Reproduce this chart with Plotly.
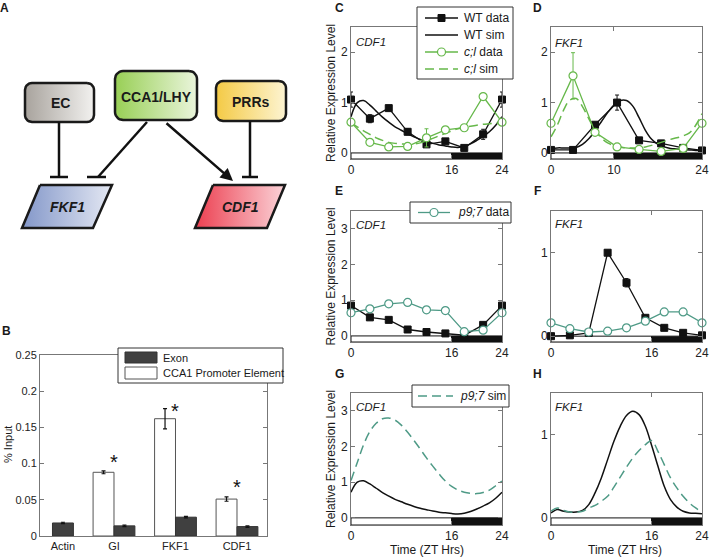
import numpy as np
import plotly.graph_objects as go

W, H = 709, 558
FONT = "Liberation Sans, Arial, sans-serif"

# ---------------- DATA ----------------
# Panel B: ChIP, % input
b_genes = ["Actin", "GI", "FKF1", "CDF1"]
b_promoter = [None, 0.088, 0.162, 0.051]
b_promoter_err = [None, 0.002, 0.014, 0.003]
b_exon = [0.018, 0.014, 0.026, 0.013]
b_exon_err = [0.001, 0.001, 0.001, 0.001]
b_star_y = [None, 0.109, 0.179, 0.075]

# sampling times (ZT hrs)
t_3h = [0, 3, 6, 9, 12, 15, 18, 21, 24]
t_35h = [0, 3.5, 7, 10.5, 14, 17.5, 21, 24]
t_sim = list(range(25))

# Panel C: CDF1 (WT vs cca1;lhy)
c_wt = [1.06, 0.68, 0.89, 0.42, 0.17, 0.23, 0.10, 0.37, 1.06]
c_wt_err = [0.15, 0.08, 0.04, 0.06, 0.04, 0.03, 0.03, 0.10, 0.15]
c_cl = [0.61, 0.21, 0.12, 0.13, 0.30, 0.46, 0.50, 1.12, 0.61]
c_cl_err = [0.03, 0.03, 0.02, 0.02, 0.18, 0.03, 0.03, 0.03, 0.03]
c_wt_sim = [0.72, 1.00, 1.04, 0.95, 0.83, 0.71, 0.61, 0.52, 0.45, 0.38, 0.32, 0.27, 0.23,
            0.19, 0.16, 0.14, 0.12, 0.11, 0.13, 0.18, 0.25, 0.33, 0.42, 0.55, 0.72]
c_cl_sim = [0.60, 0.52, 0.44, 0.37, 0.30, 0.25, 0.21, 0.19, 0.18, 0.17, 0.18, 0.20, 0.24,
            0.29, 0.34, 0.39, 0.44, 0.48, 0.51, 0.53, 0.55, 0.57, 0.58, 0.59, 0.60]

# Panel D: FKF1 (WT vs cca1;lhy)
d_wt = [0.06, 0.06, 0.56, 1.00, 0.25, 0.19, 0.10, 0.05]
d_wt_err = [0.02, 0.02, 0.04, 0.15, 0.04, 0.03, 0.02, 0.02]
d_cl = [0.59, 1.53, 0.41, 0.12, 0.07, 0.03, 0.09, 0.59]
d_cl_err = [0.05, 0.46, 0.05, 0.03, 0.02, 0.02, 0.02, 0.05]
d_wt_sim = [0.08, 0.10, 0.10, 0.10, 0.11, 0.17, 0.28, 0.44, 0.62, 0.80, 0.95, 1.04, 1.04,
            0.93, 0.70, 0.45, 0.27, 0.17, 0.12, 0.09, 0.08, 0.07, 0.06, 0.05, 0.05]
d_cl_sim = [0.32, 0.55, 0.85, 1.05, 1.08, 0.92, 0.68, 0.45, 0.30, 0.20, 0.15, 0.12, 0.10,
            0.10, 0.10, 0.12, 0.15, 0.19, 0.23, 0.27, 0.30, 0.34, 0.40, 0.55, 0.78]

# Panel E: CDF1 (WT vs prr9;7)
e_wt = [0.85, 0.52, 0.45, 0.18, 0.11, 0.07, 0.02, 0.31, 0.85]
e_wt_err = [0.03, 0.03, 0.03, 0.02, 0.02, 0.02, 0.02, 0.03, 0.03]
e_p97 = [0.65, 0.76, 0.90, 0.94, 0.73, 0.71, 0.12, 0.16, 0.65]
e_p97_err = [0.03, 0.03, 0.03, 0.03, 0.03, 0.03, 0.02, 0.02, 0.03]

# Panel F: FKF1 (WT vs prr9;7)
f_wt = [0.00, 0.01, 0.04, 1.00, 0.64, 0.22, 0.10, 0.04, 0.01]
f_wt_err = [0.01, 0.01, 0.01, 0.01, 0.05, 0.02, 0.01, 0.01, 0.01]
f_p97 = [0.16, 0.09, 0.05, 0.06, 0.10, 0.18, 0.29, 0.29, 0.16]
f_p97_err = [0.01, 0.01, 0.01, 0.01, 0.01, 0.02, 0.04, 0.01, 0.01]

# Panel G: CDF1 simulations
g_wt_sim = c_wt_sim
g_p97_sim = [1.05, 1.55, 2.05, 2.42, 2.65, 2.78, 2.80, 2.74, 2.60, 2.40, 2.17, 1.93, 1.68,
             1.45, 1.23, 1.03, 0.88, 0.78, 0.72, 0.69, 0.68, 0.71, 0.78, 0.90, 1.03]

# Panel H: FKF1 simulations
h_wt_sim = [0.06, 0.10, 0.08, 0.07, 0.07, 0.09, 0.16, 0.30, 0.48, 0.70, 0.92, 1.10, 1.23,
            1.28, 1.24, 1.10, 0.87, 0.62, 0.38, 0.22, 0.13, 0.08, 0.06, 0.055, 0.05]
h_p97_sim = [0.08, 0.12, 0.09, 0.07, 0.07, 0.08, 0.12, 0.15, 0.20, 0.26, 0.37, 0.49, 0.61,
             0.72, 0.81, 0.88, 0.93, 0.80, 0.64, 0.48, 0.36, 0.26, 0.18, 0.12, 0.07]

# light/dark: lights off (ZT) per panel
dusk = {"C": 16, "D": 10, "E": 16, "F": 16, "G": 16, "H": 16}

# ---------------- STYLE ----------------
BLACK = "#111111"
GREEN = "#66b84a"
TEAL = "#4e9a86"
AXC = "#777777"

def px(x):
    return x / W

def py(y):
    return 1 - y / H

fig = go.Figure()
shapes = []
annotations = []
layout = {}

# ---------------- time-course panels ----------------
panels = {
    "C": (2, 351, 502, 27, 159, [-0.12, 2.5], [0, 1, 2], [0, 16, 24]),
    "D": (3, 551, 702, 27, 159, [-0.12, 2.5], [0, 1, 2], [0, 10, 24]),
    "E": (4, 351, 502, 211, 342, [-0.17, 3.5], [0, 1, 2, 3], [0, 16, 24]),
    "F": (5, 551, 702, 211, 342, [-0.07, 1.5], [0, 1], [0, 16, 24]),
    "G": (6, 351, 502, 393, 525, [-0.2, 3.5], [0, 1, 2, 3], [0, 16, 24]),
    "H": (7, 551, 702, 393, 525, [-0.085, 1.5], [0, 1], [0, 16, 24]),
}

for name, (n, x0, x1, yt, yb, yr, ytk, xtk) in panels.items():
    common = dict(showline=True, linecolor=AXC, linewidth=1, mirror="allticks",
                  ticks="inside", ticklen=4, tickcolor=AXC, showgrid=False,
                  zeroline=False, automargin=False,
                  tickfont=dict(family=FONT, size=12, color="#222"))
    layout[f"xaxis{n}"] = dict(domain=[px(x0), px(x1)], range=[0, 24], tickvals=xtk,
                               anchor=f"y{n}", **common)
    layout[f"yaxis{n}"] = dict(domain=[py(yb), py(yt)], range=yr, tickvals=ytk,
                               anchor=f"x{n}", **common)
    shapes.append(dict(type="rect", xref=f"x{n}", yref=f"y{n}", x0=0, x1=dusk[name],
                       y0=yr[0], y1=0, fillcolor="white", line=dict(color=BLACK, width=1),
                       layer="below"))
    shapes.append(dict(type="rect", xref=f"x{n}", yref=f"y{n}", x0=dusk[name], x1=24,
                       y0=yr[0], y1=0, fillcolor=BLACK, line=dict(color=BLACK, width=1),
                       layer="below"))


def sim(n, t, y, color, dash="solid", width=1.5):
    fig.add_trace(go.Scatter(x=t, y=y, mode="lines", xaxis=f"x{n}", yaxis=f"y{n}",
                             line=dict(color=color, width=width, dash=dash, shape="spline",
                                       smoothing=1.0),
                             hoverinfo="skip", cliponaxis=False))


def data(n, t, y, err, color, symbol):
    if symbol == "square":
        marker = dict(symbol="square", size=7, color=color, line=dict(color=color, width=1))
    else:
        marker = dict(symbol="circle", size=8, color="white", line=dict(color=color, width=1.2))
    fig.add_trace(go.Scatter(x=t, y=y, mode="lines+markers", xaxis=f"x{n}", yaxis=f"y{n}",
                             line=dict(color=color, width=1.3), marker=marker,
                             error_y=dict(type="data", array=err, color=color,
                                          thickness=1, width=2),
                             hoverinfo="skip", cliponaxis=False))

DASH = "9px,5px"
sim(2, t_sim, c_wt_sim, BLACK)
data(2, t_3h, c_wt, c_wt_err, BLACK, "square")
sim(2, t_sim, c_cl_sim, GREEN, DASH)
data(2, t_3h, c_cl, c_cl_err, GREEN, "circle")
sim(3, t_sim, d_wt_sim, BLACK)
data(3, t_35h, d_wt, d_wt_err, BLACK, "square")
sim(3, t_sim, d_cl_sim, GREEN, DASH)
data(3, t_35h, d_cl, d_cl_err, GREEN, "circle")
data(4, t_3h, e_wt, e_wt_err, BLACK, "square")
data(4, t_3h, e_p97, e_p97_err, TEAL, "circle")
data(5, t_3h, f_wt, f_wt_err, BLACK, "square")
data(5, t_3h, f_p97, f_p97_err, TEAL, "circle")
sim(6, t_sim, g_wt_sim, BLACK)
sim(6, t_sim, g_p97_sim, TEAL, DASH)
sim(7, t_sim, h_wt_sim, BLACK)
sim(7, t_sim, h_p97_sim, TEAL, DASH)

# ---------------- Panel B: bars ----------------
bar_w = 0.34
fig.add_trace(go.Bar(x=list(range(len(b_genes))), y=b_promoter, xaxis="x", yaxis="y",
                     marker=dict(color="white", line=dict(color="#555", width=1)),
                     error_y=dict(type="data", array=b_promoter_err, color=BLACK,
                                  thickness=1.2, width=2),
                     offsetgroup="p", hoverinfo="skip"))
fig.add_trace(go.Bar(x=list(range(len(b_genes))), y=b_exon, xaxis="x", yaxis="y",
                     marker=dict(color="#404040", line=dict(color="#333", width=1)),
                     error_y=dict(type="data", array=b_exon_err, color=BLACK,
                                  thickness=1.2, width=2),
                     offsetgroup="e", hoverinfo="skip"))
label_pos = [i + (bar_w / 2 if b_promoter[i] is None else 0) for i in range(len(b_genes))]
layout["xaxis"] = dict(domain=[px(40), px(267)], range=[-0.203, 3.488], tickvals=label_pos,
                       ticktext=b_genes, ticks="", showline=True, linecolor=AXC, mirror=True,
                       showgrid=False, zeroline=False, anchor="y", automargin=False,
                       tickfont=dict(family=FONT, size=11, color="#222"))
layout["yaxis"] = dict(domain=[py(536), py(355)], range=[0, 0.25], dtick=0.05,
                       ticks="inside", ticklen=4, tickcolor=AXC, showline=True, linecolor=AXC,
                       mirror="allticks", showgrid=False, zeroline=False, anchor="x",
                       automargin=False,
                       tickfont=dict(family=FONT, size=11, color="#222"))
for i, s in enumerate(b_star_y):
    if s is not None:
        annotations.append(dict(x=i, y=s, xref="x", yref="y", text="*", showarrow=False,
                                font=dict(family=FONT, size=20, color=BLACK),
                                yanchor="middle", yshift=-5))

# ---------------- Panel A: diagram ----------------
layout["xaxis8"] = dict(domain=[0, px(300)], range=[0, 300], visible=False, anchor="y8")
layout["yaxis8"] = dict(domain=[py(290), 1], range=[290, 0], visible=False, anchor="x8")


def rrect(x0, y0, x1, y1, r):
    xs, ys = [], []
    corners = [(x1 - r, y0 + r, -90, 0), (x1 - r, y1 - r, 0, 90),
               (x0 + r, y1 - r, 90, 180), (x0 + r, y0 + r, 180, 270)]
    for cx, cy, a0, a1 in corners:
        for a in np.linspace(np.radians(a0), np.radians(a1), 8):
            xs.append(cx + r * np.cos(a))
            ys.append(cy + r * np.sin(a))
    xs.append(xs[0]); ys.append(ys[0])
    return xs, ys


def node(xs, ys, c0, c1):
    fig.add_trace(go.Scatter(x=xs, y=ys, mode="lines", fill="toself", xaxis="x8",
                             yaxis="y8", line=dict(color="#1a1a1a", width=2.5),
                             fillgradient=dict(type="horizontal",
                                               colorscale=[[0, c0], [1, c1]]),
                             hoverinfo="skip"))

nodes = [
    ("EC", rrect(25, 83, 94, 122, 7), "#a8a39d", "#f2f1ef", 60, 103, False),
    ("CCA1/LHY", rrect(115, 71, 197, 120, 8), "#98cf55", "#eaf5dc", 156, 97, False),
    ("PRRs", rrect(216, 81, 286, 121, 7), "#f4ca45", "#fdf4d2", 251, 102, False),
    ("FKF1", ([40, 112, 93, 22, 40], [185, 185, 228, 228, 185]), "#8397c9", "#e4e8f3", 67, 207, True),
    ("CDF1", ([213, 285, 267, 195, 213], [185, 185, 228, 228, 185]), "#ec3f50", "#fbd3d8", 240, 207, True),
]
for label, (xs, ys), c0, c1, tx, ty, ital in nodes:
    node(xs, ys, c0, c1)
    txt = f"<b><i>{label}</i></b>" if ital else f"<b>{label}</b>"
    annotations.append(dict(x=tx, y=ty, xref="x8", yref="y8", text=txt, showarrow=False,
                            font=dict(family=FONT, size=14, color="#1a1a1a")))

edges = [((59, 122), (59, 177)), ((50, 177), (68, 177)),
         ((147, 122), (98, 177)), ((87, 177), (106, 177)),
         ((250, 121), (250, 177)), ((242, 177), (258, 177))]
for (ax0, ay0), (ax1, ay1) in edges:
    shapes.append(dict(type="line", xref="x8", yref="y8", x0=ax0, y0=ay0, x1=ax1, y1=ay1,
                       line=dict(color="#111", width=2.5)))
annotations.append(dict(x=233, y=181, ax=165, ay=122, xref="x8", yref="y8", axref="x8",
                        ayref="y8", text="", showarrow=True, arrowhead=2, arrowsize=1.0,
                        arrowwidth=2.5, arrowcolor="#111"))

# ---------------- legends (drawn) ----------------
def pline(x0, y0, x1, y1, color, width=1.3, dash="solid"):
    shapes.append(dict(type="line", xref="paper", yref="paper", x0=px(x0), y0=py(y0),
                       x1=px(x1), y1=py(y1), line=dict(color=color, width=width, dash=dash),
                       layer="above"))

def prect(x0, y0, x1, y1, fill, lc, lw=1):
    shapes.append(dict(type="rect", xref="paper", yref="paper", x0=px(x0), y0=py(y1),
                       x1=px(x1), y1=py(y0), fillcolor=fill, line=dict(color=lc, width=lw),
                       layer="above"))

def pcircle(cx, cy, r, color):
    shapes.append(dict(type="circle", xref="paper", yref="paper", x0=px(cx - r), y0=py(cy + r),
                       x1=px(cx + r), y1=py(cy - r), fillcolor="white",
                       line=dict(color=color, width=1.2), layer="above"))

def ptext(x, y, text, size=12, anchor="left", angle=0, color="#1a1a1a"):
    annotations.append(dict(x=px(x), y=py(y), xref="paper", yref="paper", text=text,
                            showarrow=False, xanchor=anchor, yanchor="middle",
                            textangle=angle, font=dict(family=FONT, size=size, color=color)))

prect(417, 7, 513, 79, "white", "#333")
pline(425, 18, 458, 18, BLACK)
prect(438, 14.5, 445, 21.5, BLACK, BLACK)
ptext(462, 18, "WT data")
pline(425, 35, 458, 35, BLACK, 1.5)
ptext(462, 35, "WT sim")
pline(425, 52, 458, 52, GREEN)
pcircle(441.5, 52, 4, GREEN)
ptext(462, 52, "<i>c;l</i> data")
pline(425, 69, 458, 69, GREEN, 1.5, DASH)
ptext(462, 69, "<i>c;l</i> sim")

prect(410, 202, 511, 223, "white", "#333")
pline(418, 212.5, 450, 212.5, TEAL)
pcircle(434, 212.5, 4, TEAL)
ptext(456, 212.5, "<i>p9;7</i> data")

prect(412, 385, 509, 407, "white", "#333")
pline(418, 396, 453, 396, TEAL, 1.5, DASH)
ptext(458, 396, "<i>p9;7</i> sim")

prect(118, 348, 283, 383, "white", "#333")
prect(125, 352, 157, 363, "#404040", "#333")
ptext(161, 357.5, "Exon", 11)
prect(125, 367, 157, 379, "white", "#555")
ptext(161, 373, "CCA1 Promoter Element", 11)

# ---------------- text labels ----------------
for letter, (lx, ly) in {"A": (4.5, 8.5), "B": (6, 330.5), "C": (339, 8.5), "D": (537.5, 8.5),
                         "E": (339, 191), "F": (537.5, 191), "G": (339, 374),
                         "H": (537.5, 374)}.items():
    ptext(lx, ly, f"<b>{letter}</b>", 12, anchor="center")

for gx, gy, g in [(354, 41.5, "CDF1"), (553, 43, "FKF1"), (354, 225, "CDF1"),
                  (553, 223.5, "FKF1"), (354, 407, "CDF1"), (553, 407, "FKF1")]:
    ptext(gx, gy, f"<i>{g}</i>", 11.5)

for cy in [93, 276.5, 459]:
    ptext(331, cy, "Relative Expression Level", 12, anchor="center", angle=-90)
ptext(8, 445, "% Input", 11, anchor="center", angle=-90)
ptext(427, 550, "Time (ZT Hrs)", 12, anchor="center")
ptext(625, 550, "Time (ZT Hrs)", 12, anchor="center")

fig.update_layout(width=W, height=H, margin=dict(l=0, r=0, t=0, b=0, autoexpand=False),
                  autosize=False,
                  paper_bgcolor="white", plot_bgcolor="white", showlegend=False,
                  barmode="group", bargap=0.32, bargroupgap=0,
                  font=dict(family=FONT, size=12, color="#222"),
                  shapes=shapes, annotations=annotations, **layout)

fig.write_html("out.html", config={"displayModeBar": False},
               post_script="document.body.style.margin='0';")
